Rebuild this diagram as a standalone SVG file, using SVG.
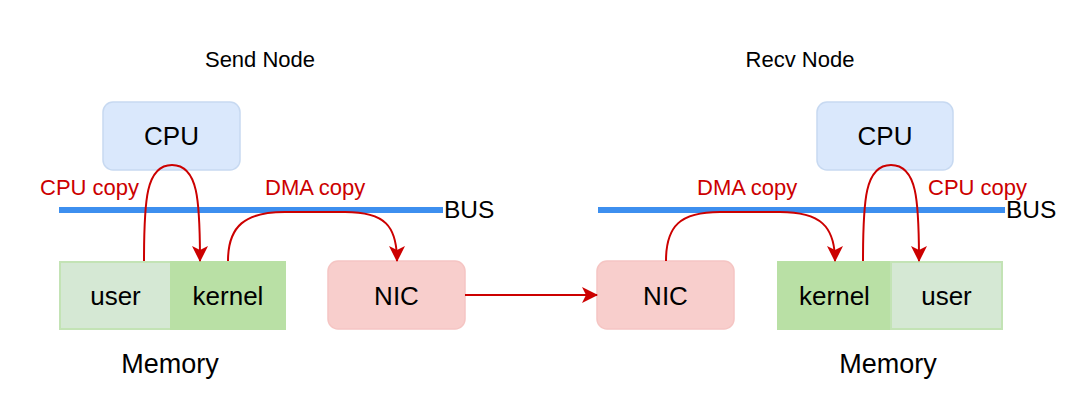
<svg xmlns="http://www.w3.org/2000/svg" width="1080" height="420" viewBox="0 0 1080 420">
<defs>
<style>
text{font-family:"Liberation Sans",Arial,Helvetica,sans-serif;fill:#000}
.node{font-size:26px;text-anchor:middle}
.title{font-size:22px;text-anchor:middle}
.mem{font-size:27px;text-anchor:middle}
.lbl{font-size:22px;fill:#cc0000}
.cpu{fill:#dae8fc;stroke:#c7d9f1;stroke-width:1.5}
.nic{fill:#f8cecc;stroke:#f5c5c3;stroke-width:1.5}
.user{fill:#d5e8d4;stroke:#c3e3b5;stroke-width:2}
.kern{fill:#b9e0a5;stroke:#b9e0a5;stroke-width:2}
.bus{stroke:#3d8fef;stroke-width:6}
.arr{fill:none;stroke:#cc0000;stroke-width:2;marker-end:url(#ah)}
</style>
<marker id="ah" viewBox="0 0 16 16" refX="15" refY="8" markerWidth="16" markerHeight="16" markerUnits="userSpaceOnUse" orient="auto">
<path d="M0,0 L16,8 L0,16 L4,8 Z" fill="#cc0000"/>
</marker>
</defs>
<rect width="1080" height="420" fill="#fff"/>

<text class="title" x="260" y="67">Send Node</text>
<text class="title" x="800" y="67">Recv Node</text>

<g id="bus-left"><line class="bus" x1="59" y1="210" x2="443" y2="210"/><text x="444" y="218" style="font-size:24.5px">BUS</text></g>
<g id="bus-right"><line class="bus" x1="598" y1="210" x2="1005" y2="210"/><text x="1006" y="218" style="font-size:24.5px">BUS</text></g>

<g id="cpu-left"><rect class="cpu" x="103" y="102" width="137" height="68" rx="10"/><text class="node" x="171.5" y="145">CPU</text></g>
<g id="cpu-right"><rect class="cpu" x="817" y="102" width="136" height="68" rx="10"/><text class="node" x="885" y="145">CPU</text></g>

<g id="mem-left">
<rect class="user" x="60" y="262" width="111" height="67"/>
<rect class="kern" x="171" y="262" width="114" height="67"/>
<text class="node" x="115.5" y="305">user</text>
<text class="node" x="228" y="305">kernel</text>
<text class="mem" x="170" y="373">Memory</text>
</g>
<g id="mem-right">
<rect class="kern" x="778" y="262" width="113" height="67"/>
<rect class="user" x="891" y="262" width="111" height="67"/>
<text class="node" x="834.5" y="305">kernel</text>
<text class="node" x="946.5" y="305">user</text>
<text class="mem" x="888" y="373">Memory</text>
</g>

<g id="nic-left"><rect class="nic" x="328" y="261" width="137" height="68" rx="10"/><text class="node" x="396.5" y="305">NIC</text></g>
<g id="nic-right"><rect class="nic" x="597" y="261" width="137" height="68" rx="10"/><text class="node" x="665.5" y="305">NIC</text></g>

<g id="connectors">
<path class="arr" d="M144,261 C144,200 146,165 172,165 C198,165 200,200 200,261"/>
<path class="arr" d="M228,261 C228,226 245,212 285,212 L345,212 C385,212 397,226 397,261"/>
<path class="arr" d="M465,295 L597,295"/>
<path class="arr" d="M666,261 C666,226 680,212 720,212 L780,212 C820,212 835,226 835,261"/>
<path class="arr" d="M863,261 C863,200 865,165 891,165 C917,165 919,200 919,261"/>
</g>

<text class="lbl" x="40" y="195">CPU copy</text>
<text class="lbl" x="265" y="195">DMA copy</text>
<text class="lbl" x="697" y="195">DMA copy</text>
<text class="lbl" x="928" y="195">CPU copy</text>
</svg>
